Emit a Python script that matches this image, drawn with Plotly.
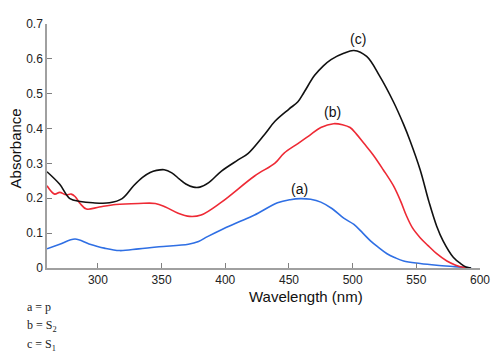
import plotly.graph_objects as go

# Series (c) S1 - black
wl_c = [260, 270, 278, 286, 296, 309, 319, 328, 335, 341, 346, 352, 358, 364, 369, 375, 380, 387, 397,
        410, 418, 431, 439, 450, 457, 462, 470, 477, 483, 493, 501, 511, 521, 532, 540, 545, 553, 560,
        566, 571, 579, 585, 589, 593]
abs_c = [0.276, 0.24, 0.199, 0.191, 0.187, 0.187, 0.199, 0.236, 0.26, 0.274, 0.28, 0.282, 0.273, 0.255,
         0.241, 0.232, 0.232, 0.245, 0.278, 0.31, 0.329, 0.384, 0.421, 0.456, 0.477, 0.505, 0.552, 0.58,
         0.598, 0.616, 0.624, 0.607, 0.552, 0.477, 0.412, 0.366, 0.282, 0.189, 0.12, 0.078, 0.031, 0.012,
         0.003, 0.0]

# Series (b) S2 - red
wl_b = [260, 266, 270, 275, 279, 282, 286, 291, 301, 314, 332, 345, 353, 363, 372, 381, 397, 423, 439,
        446, 457, 466, 475, 485, 492, 498, 503, 509, 516, 524, 532, 538, 542, 547, 553, 559, 566, 574,
        581, 587, 592]
abs_b = [0.236, 0.212, 0.217, 0.21, 0.212, 0.205, 0.185, 0.169, 0.175, 0.182, 0.185, 0.185, 0.175, 0.157,
         0.148, 0.152, 0.189, 0.264, 0.301, 0.329, 0.357, 0.38, 0.403, 0.414, 0.411, 0.403, 0.384, 0.357,
         0.325, 0.282, 0.236, 0.189, 0.152, 0.115, 0.087, 0.065, 0.041, 0.02, 0.008, 0.002, 0.0]

# Series (a) p - blue
wl_a = [260, 270, 282, 293, 305, 317, 332, 348, 371, 379, 386, 397, 410, 423, 441, 451, 459, 467, 475,
        484, 493, 501, 508, 514, 520, 527, 533, 540, 553, 566, 580, 587, 593]
abs_a = [0.055, 0.068, 0.083, 0.069, 0.057, 0.05, 0.055, 0.061, 0.068, 0.076, 0.09, 0.11, 0.131, 0.152,
         0.187, 0.196, 0.199, 0.197, 0.189, 0.17, 0.143, 0.125, 0.1, 0.078, 0.06, 0.041, 0.03, 0.02,
         0.013, 0.008, 0.004, 0.002, 0.0]

x_ticks = [300, 350, 400, 450, 500, 550, 600]
y_ticks = [0, 0.1, 0.2, 0.3, 0.4, 0.5, 0.6, 0.7]
y_tick_text = ["0", "0.1", "0.2", "0.3", "0.4", "0.5", "0.6", "0.7"]

curve_labels = ["(a)", "(b)", "(c)"]
curve_label_x = [458, 484, 504]
curve_label_y = [0.226, 0.448, 0.657]

legend_lines = ["a = p", "b = S<sub>2</sub>", "c = S<sub>1</sub>"]

fig = go.Figure()
for wl, ab, col in [(wl_a, abs_a, "#2f6fe4"), (wl_b, abs_b, "#ee2a35"), (wl_c, abs_c, "#111111")]:
    fig.add_trace(go.Scatter(x=wl, y=ab, mode="lines",
                             line=dict(color=col, width=1.6, shape="spline", smoothing=1.0),
                             showlegend=False, hoverinfo="skip"))

for t, x, y in zip(curve_labels, curve_label_x, curve_label_y):
    fig.add_annotation(x=x, y=y, text=t, showarrow=False, xref="x", yref="y",
                       font=dict(family="Arial, Liberation Sans", size=14, color="#111"))

fig.add_annotation(x=0.597, y=-0.118, xref="paper", yref="paper", text="Wavelength (nm)", showarrow=False,
                   font=dict(family="Arial, Liberation Sans", size=15, color="#111"),
                   xanchor="center", yanchor="middle")
fig.add_annotation(x=-0.074, y=0.49, xref="paper", yref="paper", text="Absorbance", showarrow=False,
                   textangle=-90, font=dict(family="Arial, Liberation Sans", size=15, color="#111"),
                   xanchor="center", yanchor="middle")

for i, t in enumerate(legend_lines):
    fig.add_annotation(x=-0.0507, y=-0.16 - 0.078 * i, xref="paper", yref="paper", text=t, showarrow=False,
                       xanchor="left", yanchor="middle",
                       font=dict(family="Liberation Serif, Times New Roman", size=12, color="#222"))

fig.update_layout(
    width=491, height=345,
    margin=dict(l=39, r=18, t=9, b=85),
    plot_bgcolor="white", paper_bgcolor="white",
    xaxis=dict(range=[260, 600], tickvals=x_ticks, showline=True, linecolor="#a0a0a0", linewidth=1.5,
               ticks="inside", ticklen=5, tickcolor="#808080", showgrid=False, zeroline=False,
               tickfont=dict(family="Arial, Liberation Sans", size=12, color="#222")),
    yaxis=dict(range=[0, 0.7], tickvals=y_ticks, ticktext=y_tick_text, showline=True, linecolor="#a0a0a0",
               linewidth=1.5, ticks="inside", ticklen=5, tickcolor="#808080", showgrid=False, zeroline=False,
               tickfont=dict(family="Arial, Liberation Sans", size=12, color="#222")),
)

fig.write_html("out.html")
